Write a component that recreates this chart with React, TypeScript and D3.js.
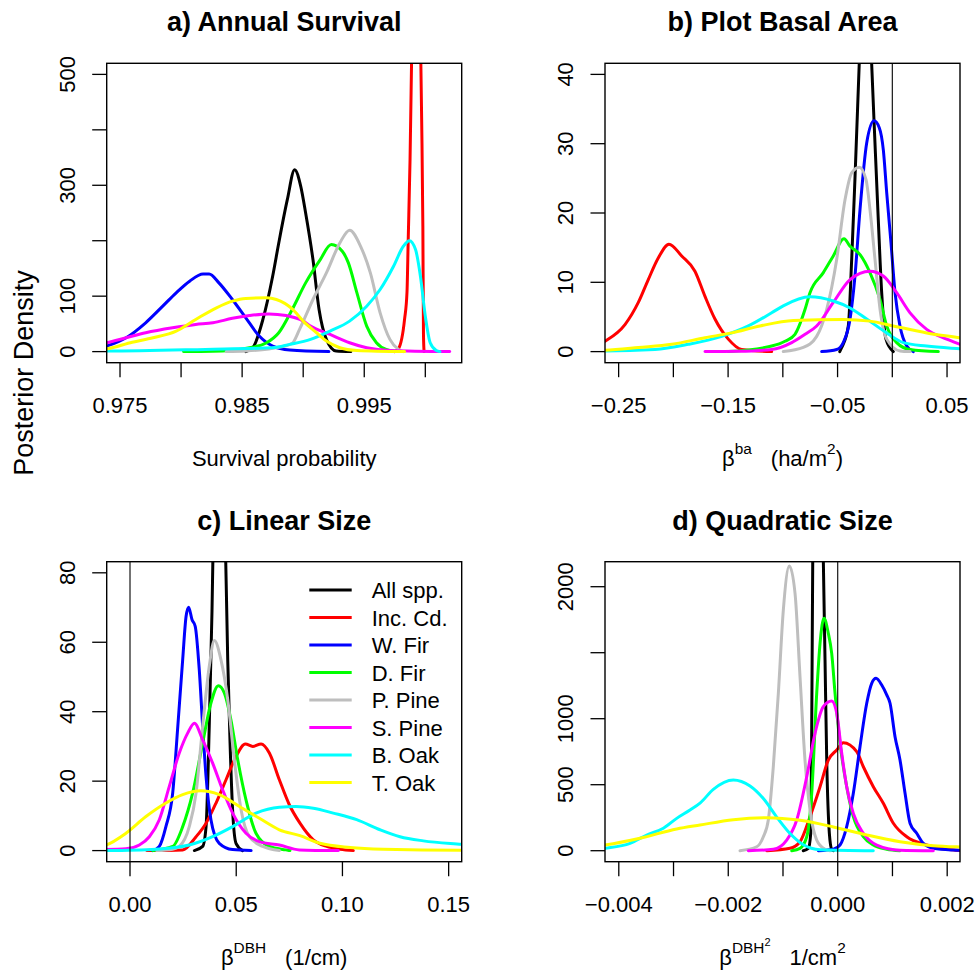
import React from "react";
import * as d3 from "d3";

type Pt = [number, number];

const seriesNames = ["All spp.", "Inc. Cd.", "W. Fir", "D. Fir", "P. Pine", "S. Pine", "B. Oak", "T. Oak"];
const seriesColors = ["#000000", "#FF0000", "#0000FF", "#00FF00", "#BEBEBE", "#FF00FF", "#00FFFF", "#FFFF00"];

// ---------- a) Annual Survival ----------
const survAll: Pt[] = [[0.9853,0],[0.9859,8],[0.9867,58],[0.9875,136],[0.9880,196],[0.9887,274],[0.9893,328],[0.9898,298],[0.9902,250],[0.9908,166],[0.9913,76],[0.9919,22],[0.9927,1],[0.9939,0]];
const survIncCd: Pt[] = [[0.9975,0],[0.9978,5],[0.9983,58],[0.9985,107],[0.9986,202],[0.99875,346],[0.9989,560],[0.9992,900],[0.99955,650],[0.9997,420],[0.9998,226],[0.99985,30],[0.9999,0]];
const survWFir: Pt[] = [[0.9735,7],[0.9739,10],[0.9755,25],[0.9771,52],[0.9785,82],[0.9796,106],[0.9807,127],[0.9818,140],[0.9823,140],[0.9831,124],[0.9842,94],[0.9853,61],[0.9864,28],[0.9875,10],[0.9889,3],[0.9921,0]];
const survDFir: Pt[] = [[0.9802,0],[0.9826,0.5],[0.9856,7],[0.9870,16],[0.9880,34],[0.9891,76],[0.9902,124],[0.9914,166],[0.9923,193],[0.9932,181],[0.9937,160],[0.9944,106],[0.9952,46],[0.9960,16],[0.9968,4],[0.9979,0]];
const survPPine: Pt[] = [[0.9837,0],[0.9853,1],[0.9875,6],[0.9891,15],[0.9897,40],[0.9908,94],[0.9919,142],[0.9930,196],[0.9938,219],[0.9947,190],[0.9955,142],[0.9963,70],[0.9971,22],[0.9978,4],[0.9982,0]];
const survSPine: Pt[] = [[0.9735,14],[0.9739,16],[0.9755,25],[0.9771,34],[0.9793,43],[0.9812,49],[0.9826,52],[0.9842,60],[0.9856,65],[0.9872,68],[0.9886,65],[0.9900,55],[0.9906,46],[0.9922,31],[0.9938,16],[0.9952,7],[0.9971,2],[1.0020,0]];
const survBOak: Pt[] = [[0.9735,1],[0.9739,1],[0.9820,4],[0.9875,7],[0.9889,13],[0.9906,22],[0.9922,37],[0.9938,55],[0.9952,82],[0.9963,112],[0.9974,154],[0.9982,190],[0.9987,200],[0.9992,184],[0.9996,136],[1.0000,64],[1.0004,16],[1.0009,2],[1.0012,0]];
const survTOak: Pt[] = [[0.9735,4],[0.9739,5],[0.9760,17],[0.9777,25],[0.9796,37],[0.9812,58],[0.9829,79],[0.9842,91],[0.9853,96],[0.9870,97],[0.9878,94],[0.9891,77],[0.9900,55],[0.9911,34],[0.9919,19],[0.9930,7],[0.9944,2],[0.9983,0]];

// ---------- b) Plot Basal Area ----------
const baAll: Pt[] = [[-0.0480,0],[-0.0462,0.6],[-0.0402,3.7],[-0.0371,13.3],[-0.0341,25],[-0.0301,42],[-0.0270,55],[-0.0249,60],[-0.0225,57],[-0.0195,44],[-0.0158,30],[-0.0128,19],[-0.0097,8.5],[-0.0058,1.8],[0.0009,0]];
const baIncCd: Pt[] = [[-0.268,1.0],[-0.2624,1.5],[-0.2442,3.9],[-0.2320,7.1],[-0.2229,10.4],[-0.2138,13.5],[-0.2040,15.5],[-0.1924,13.8],[-0.1803,11.6],[-0.1712,8.0],[-0.1620,4.7],[-0.1498,1.8],[-0.1376,0.3],[-0.1102,0]];
const baWFir: Pt[] = [[-0.0645,0],[-0.0508,0.3],[-0.0448,1.3],[-0.0386,4.7],[-0.0341,10.9],[-0.0295,20.5],[-0.0234,30.1],[-0.0167,33.3],[-0.0119,32.3],[-0.0082,29.1],[-0.0051,22.9],[-0.0012,15.7],[0.0025,8.5],[0.0070,3.7],[0.0132,0.8],[0.0192,0]];
const baDFir: Pt[] = [[-0.1498,0],[-0.1102,0.8],[-0.0980,1.5],[-0.0889,2.5],[-0.0797,6.1],[-0.0752,8.5],[-0.0630,11.4],[-0.0539,13.8],[-0.0441,16.3],[-0.0386,15.2],[-0.0295,14.0],[-0.0204,11.4],[-0.0112,7.5],[-0.0051,3.7],[0.0040,1.3],[0.0162,0.3],[0.0420,0]];
const baPPine: Pt[] = [[-0.0996,0],[-0.0813,0.6],[-0.0691,2.2],[-0.0599,6.1],[-0.0508,13.3],[-0.0432,21.9],[-0.0371,25.8],[-0.0301,26.6],[-0.0240,24.8],[-0.0204,20.5],[-0.0158,13.3],[-0.0112,6.1],[-0.0051,1.8],[0.0070,0.1],[0.0162,0]];
const baSPine: Pt[] = [[-0.1711,0],[-0.1407,0.05],[-0.1102,0.3],[-0.0919,1.3],[-0.0797,2.5],[-0.0691,3.7],[-0.0539,7.1],[-0.0386,10.4],[-0.0204,11.6],[-0.0082,10.9],[0.0040,8.5],[0.0162,5.6],[0.0314,3.2],[0.0497,1.8],[0.0618,1.05],[0.066,0.8]];
const baBOak: Pt[] = [[-0.268,0.1],[-0.2624,0.1],[-0.2168,0.3],[-0.1864,1.05],[-0.1558,2.2],[-0.1315,3.7],[-0.1102,5.6],[-0.0996,6.6],[-0.0752,7.9],[-0.0539,7.3],[-0.0386,6.3],[-0.0234,4.7],[-0.0051,2.7],[0.0100,1.3],[0.0314,0.8],[0.0618,0.4],[0.066,0.35]];
const baTOak: Pt[] = [[-0.268,0.15],[-0.2624,0.2],[-0.2320,0.6],[-0.2015,1.05],[-0.1711,2.0],[-0.1467,2.7],[-0.1209,3.7],[-0.0904,4.5],[-0.0448,4.65],[-0.0204,4.4],[0.0009,3.7],[0.0314,2.7],[0.0618,2.0],[0.066,1.9]];

// ---------- c) Linear Size ----------
const linAll: Pt[] = [[0.0303,0],[0.0342,1.2],[0.0358,6.9],[0.0373,35.8],[0.0386,69],[0.0395,100],[0.0420,130],[0.0445,100],[0.0460,55],[0.0471,31],[0.0483,11.7],[0.0499,2.1],[0.0530,0]];
const linIncCd: Pt[] = [[0.0079,0],[0.0248,0.2],[0.0311,4.0],[0.0358,7.9],[0.0405,13.7],[0.0452,20.4],[0.0499,27.1],[0.0543,30.7],[0.0578,30.0],[0.0617,30.7],[0.0656,28.1],[0.0703,20.4],[0.0750,13.2],[0.0800,7.9],[0.0863,3.1],[0.0926,1.2],[0.0989,0.4],[0.1051,0]];
const linWFir: Pt[] = [[0.0107,0],[0.0138,1.2],[0.0169,6.9],[0.0201,16.6],[0.0225,35.8],[0.0248,55],[0.0264,67.5],[0.0276,70.1],[0.0292,66.5],[0.0307,64.6],[0.0326,52.1],[0.0342,35.8],[0.0358,21.3],[0.0381,8.9],[0.0420,2.1],[0.0483,0.3],[0.0570,0]];
const linDFir: Pt[] = [[0.0107,0],[0.0201,1.2],[0.0248,6.9],[0.0295,16.6],[0.0342,31],[0.0381,42.5],[0.0416,47.5],[0.0444,45.4],[0.0475,37.7],[0.0507,26.2],[0.0546,14.6],[0.0593,5.0],[0.0656,1.2],[0.0734,0.2],[0.0753,0]];
const linPPine: Pt[] = [[0.0126,0],[0.0200,0.4],[0.0232,1.2],[0.0279,6.9],[0.0311,16.6],[0.0342,35.8],[0.0373,53],[0.0397,60.5],[0.0428,55],[0.0460,43.5],[0.0491,26.2],[0.0523,11.7],[0.0562,4.0],[0.0625,1.2],[0.0703,0]];
const linSPine: Pt[] = [[-0.0113,0.3],[-0.0019,0.5],[0.0044,1.6],[0.0091,4.0],[0.0138,8.9],[0.0185,18.5],[0.0232,28.1],[0.0272,33.9],[0.0303,36.7],[0.0342,31.9],[0.0389,25.2],[0.0436,17.5],[0.0483,10.8],[0.0546,5.0],[0.0609,2.6],[0.0703,1.6],[0.0797,0.2],[0.0981,0]];
const linBOak: Pt[] = [[-0.0113,0],[0.0122,0.4],[0.0279,1.6],[0.0389,4.0],[0.0483,6.9],[0.0593,10.8],[0.0703,12.5],[0.0781,12.7],[0.0863,12.2],[0.0957,10.8],[0.1067,8.9],[0.1177,6.0],[0.1271,4.0],[0.1381,2.8],[0.1561,1.8],[0.160,1.6]];
const linTOak: Pt[] = [[-0.013,1.3],[-0.0113,1.6],[-0.0019,5.0],[0.0075,9.8],[0.0169,13.7],[0.0248,16.1],[0.0334,17.2],[0.0420,16.1],[0.0515,12.7],[0.0609,9.3],[0.0703,6.0],[0.0800,4.3],[0.0894,2.1],[0.1036,0.9],[0.1192,0.4],[0.1561,0.1],[0.160,0.1]];

// ---------- d) Quadratic Size ----------
const quadAll: Pt[] = [[-0.00063,0],[-0.000537,18],[-0.000493,132],[-0.000475,939],[-0.000455,2300],[-0.00042,3200],[-0.00036,3800],[-0.0003,3200],[-0.000263,2200],[-0.000232,1445],[-0.000201,687],[-0.000153,132],[-0.00011,10],[-0.00008,0]];
const quadIncCd: Pt[] = [[-0.001297,0],[-0.000872,18],[-0.000689,68],[-0.000506,258],[-0.000323,485],[-0.000172,687],[-0.000018,763],[0.000102,818],[0.000347,750],[0.000468,636],[0.00065,485],[0.000833,359],[0.001016,208],[0.001261,106],[0.001626,43],[0.001991,11],[0.002234,2]];
const quadWFir: Pt[] = [[-0.000354,0],[-0.00008,11],[0.000042,43],[0.000164,182],[0.000285,435],[0.000407,788],[0.00053,1117],[0.000621,1268],[0.0007,1306],[0.000804,1255],[0.000895,1180],[0.000956,1117],[0.001047,864],[0.001138,687],[0.00123,435],[0.001321,208],[0.001443,132],[0.001564,56],[0.001747,18],[0.002112,5],[0.002234,3]];
const quadDFir: Pt[] = [[-0.00084,0],[-0.000689,18],[-0.000566,106],[-0.000475,435],[-0.000384,1192],[-0.000323,1571],[-0.00025,1761],[-0.000172,1647],[-0.00011,1495],[-0.000049,1192],[0.000042,814],[0.000164,485],[0.000285,258],[0.000468,106],[0.00065,43],[0.000895,11],[0.001138,0]];
const quadPPine: Pt[] = [[-0.001785,0],[-0.00148,30],[-0.001359,106],[-0.001268,233],[-0.001177,636],[-0.001085,1192],[-0.000994,1823],[-0.000884,2157],[-0.00078,1950],[-0.000689,1318],[-0.000598,687],[-0.000506,308],[-0.000384,81],[-0.000232,11],[-0.000141,0]];
const quadSPine: Pt[] = [[-0.001633,0],[-0.001177,11],[-0.000932,81],[-0.000749,233],[-0.000566,561],[-0.000415,889],[-0.000263,1091],[-0.00011,1134],[-0.000018,1041],[0.000073,738],[0.000164,485],[0.000285,283],[0.000468,132],[0.000713,43],[0.001138,4],[0.001747,0]];
const quadBOak: Pt[] = [[-0.0043,15],[-0.004252,18],[-0.003795,56],[-0.00349,119],[-0.003186,170],[-0.002942,245],[-0.002699,308],[-0.002516,360],[-0.002273,465],[-0.001907,536],[-0.001602,490],[-0.001359,395],[-0.001115,255],[-0.000872,130],[-0.000628,45],[-0.000323,8],[0.00065,0]];
const quadTOak: Pt[] = [[-0.0043,40],[-0.004252,43],[-0.003613,94],[-0.002942,165],[-0.002516,195],[-0.001907,235],[-0.001297,250],[-0.000689,230],[-0.00008,180],[0.00053,119],[0.001138,68],[0.001747,38],[0.002234,28],[0.0023,27]];

// ---------- ticks ----------
const aXTicks = [0.975, 0.98, 0.985, 0.99, 0.995, 1.0];
const aXLabels = ["0.975", "", "0.985", "", "0.995", ""];
const aYTicks = [0, 100, 200, 300, 400, 500];
const aYLabels = ["0", "100", "", "300", "", "500"];

const bXTicks = [-0.25, -0.2, -0.15, -0.1, -0.05, 0, 0.05];
const bXLabels = ["\u22120.25", "", "\u22120.15", "", "\u22120.05", "", "0.05"];
const bYTicks = [0, 10, 20, 30, 40];
const bYLabels = ["0", "10", "20", "30", "40"];

const cXTicks = [0, 0.05, 0.1, 0.15];
const cXLabels = ["0.00", "0.05", "0.10", "0.15"];
const cYTicks = [0, 20, 40, 60, 80];
const cYLabels = ["0", "20", "40", "60", "80"];

const dXTicks = [-0.004, -0.003, -0.002, -0.001, 0, 0.001, 0.002];
const dXLabels = ["\u22120.004", "", "\u22120.002", "", "0.000", "", "0.002"];
const dYTicks = [0, 500, 1000, 1500, 2000];
const dYLabels = ["0", "500", "1000", "", "2000"];

const titles = ["a) Annual Survival", "b) Plot Basal Area", "c) Linear Size", "d) Quadratic Size"];

const FONT = "'Liberation Sans', Arial, Helvetica, sans-serif";

interface PanelCfg {
  id: string;
  title: string;
  x0: number; x1: number; y0: number; y1: number;
  xDomain: [number, number];
  yDomain: [number, number];
  xTicks: number[]; xLabels: string[];
  yTicks: number[]; yLabels: string[];
  series: Pt[][];
  zeroLine: boolean;
  legend?: boolean;
  xlab: "a" | "b" | "c" | "d";
}

const panels: PanelCfg[] = [
  { id: "a", title: titles[0], x0: 106.7, x1: 461.7, y0: 63.3, y1: 362.7,
    xDomain: [0.97391, 1.00298], yDomain: [-20, 520],
    xTicks: aXTicks, xLabels: aXLabels, yTicks: aYTicks, yLabels: aYLabels,
    series: [survAll, survIncCd, survWFir, survDFir, survPPine, survSPine, survBOak, survTOak],
    zeroLine: false, xlab: "a" },
  { id: "b", title: titles[1], x0: 605, x1: 960, y0: 63.3, y1: 362.7,
    xDomain: [-0.26245, 0.06184], yDomain: [-1.6, 41.6],
    xTicks: bXTicks, xLabels: bXLabels, yTicks: bYTicks, yLabels: bYLabels,
    series: [baAll, baIncCd, baWFir, baDFir, baPPine, baSPine, baBOak, baTOak],
    zeroLine: true, xlab: "b" },
  { id: "c", title: titles[2], x0: 106.7, x1: 461.7, y0: 561.7, y1: 861.7,
    xDomain: [-0.01097, 0.15614], yDomain: [-3.2, 83.2],
    xTicks: cXTicks, xLabels: cXLabels, yTicks: cYTicks, yLabels: cYLabels,
    series: [linAll, linIncCd, linWFir, linDFir, linPPine, linSPine, linBOak, linTOak],
    zeroLine: true, legend: true, xlab: "c" },
  { id: "d", title: titles[3], x0: 605, x1: 960, y0: 561.7, y1: 861.7,
    xDomain: [-0.004252, 0.002234], yDomain: [-83.3, 2189.4],
    xTicks: dXTicks, xLabels: dXLabels, yTicks: dYTicks, yLabels: dYLabels,
    series: [quadAll, quadIncCd, quadWFir, quadDFir, quadPPine, quadSPine, quadBOak, quadTOak],
    zeroLine: true, xlab: "d" },
];

function XLabel({ kind, cx, y }: { kind: string; cx: number; y: number }) {
  const sup = 15.4;
  if (kind === "a") {
    return <text x={cx} y={y} textAnchor="middle" fontSize={22}>Survival probability</text>;
  }
  if (kind === "b") {
    return (
      <text x={cx} y={y} textAnchor="middle" fontSize={22}>
        <tspan>β</tspan>
        <tspan dy={-12} fontSize={sup}>ba</tspan>
        <tspan dy={12} dx={19}>(ha/m</tspan>
        <tspan dy={-12} fontSize={sup}>2</tspan>
        <tspan dy={12}>)</tspan>
      </text>
    );
  }
  if (kind === "c") {
    return (
      <text x={cx} y={y} textAnchor="middle" fontSize={22}>
        <tspan>β</tspan>
        <tspan dy={-12} fontSize={sup}>DBH</tspan>
        <tspan dy={12} dx={19}>(1/cm)</tspan>
      </text>
    );
  }
  return (
    <text x={cx} y={y} textAnchor="middle" fontSize={22}>
      <tspan>β</tspan>
      <tspan dy={-12} fontSize={sup}>DBH</tspan>
      <tspan dy={-7} fontSize={11}>2</tspan>
      <tspan dy={19} dx={19}>1/cm</tspan>
      <tspan dy={-12} fontSize={sup}>2</tspan>
    </text>
  );
}

function Panel({ cfg }: { cfg: PanelCfg }) {
  const x = d3.scaleLinear().domain(cfg.xDomain).range([cfg.x0, cfg.x1]);
  const y = d3.scaleLinear().domain(cfg.yDomain).range([cfg.y1, cfg.y0]);
  const line = d3.line<Pt>().x((d) => x(d[0])).y((d) => y(d[1])).curve(d3.curveMonotoneX);
  const cx = (cfg.x0 + cfg.x1) / 2;
  const tick = 14.5;
  const clipId = `clip-${cfg.id}`;
  return (
    <g>
      <defs>
        <clipPath id={clipId}>
          <rect x={cfg.x0} y={cfg.y0} width={cfg.x1 - cfg.x0} height={cfg.y1 - cfg.y0} />
        </clipPath>
      </defs>
      <text x={cx} y={cfg.y0 - 32} textAnchor="middle" fontSize={27} fontWeight="bold">{cfg.title}</text>
      <g clipPath={`url(#${clipId})`}>
        {cfg.series.map((s, i) => (
          <path key={i} d={line(s) || ""} fill="none" stroke={seriesColors[i]} strokeWidth={3}
            strokeLinecap="round" strokeLinejoin="round" />
        ))}
        {cfg.zeroLine && (
          <line x1={x(0)} x2={x(0)} y1={cfg.y0} y2={cfg.y1} stroke="#000" strokeWidth={1.1} />
        )}
      </g>
      <rect x={cfg.x0} y={cfg.y0} width={cfg.x1 - cfg.x0} height={cfg.y1 - cfg.y0}
        fill="none" stroke="#000" strokeWidth={1.4} />
      {cfg.xTicks.map((t, i) => (
        <g key={`xt${i}`}>
          <line x1={x(t)} x2={x(t)} y1={cfg.y1} y2={cfg.y1 + tick} stroke="#000" strokeWidth={1.3} />
          {cfg.xLabels[i] && (
            <text x={x(t)} y={cfg.y1 + 50.5} textAnchor="middle" fontSize={22}>{cfg.xLabels[i]}</text>
          )}
        </g>
      ))}
      {cfg.yTicks.map((t, i) => (
        <g key={`yt${i}`}>
          <line x1={cfg.x0 - tick} x2={cfg.x0} y1={y(t)} y2={y(t)} stroke="#000" strokeWidth={1.3} />
          {cfg.yLabels[i] && (
            <text transform={`translate(${cfg.x0 - 32},${y(t)}) rotate(-90)`} textAnchor="middle" fontSize={22}>
              {cfg.yLabels[i]}
            </text>
          )}
        </g>
      ))}
      <XLabel kind={cfg.xlab} cx={cx} y={cfg.y1 + 103} />
      {cfg.legend && (
        <g>
          {seriesNames.map((n, i) => {
            const ly = 590 + i * 27.5;
            return (
              <g key={n}>
                <line x1={309.3} x2={351.7} y1={ly} y2={ly} stroke={seriesColors[i]} strokeWidth={3} />
                <text x={371.7} y={ly + 8} fontSize={22}>{n}</text>
              </g>
            );
          })}
        </g>
      )}
    </g>
  );
}

export default function App() {
  return (
    <svg width={977} height={971} style={{ position: "absolute", left: 0, top: 0, fontFamily: FONT }}
      fontFamily={FONT}>
      <rect x={0} y={0} width={977} height={971} fill="#fff" />
      {panels.map((p) => (
        <Panel key={p.id} cfg={p} />
      ))}
      <text transform="translate(33,373) rotate(-90)" textAnchor="middle" fontSize={27}>Posterior Density</text>
    </svg>
  );
}
